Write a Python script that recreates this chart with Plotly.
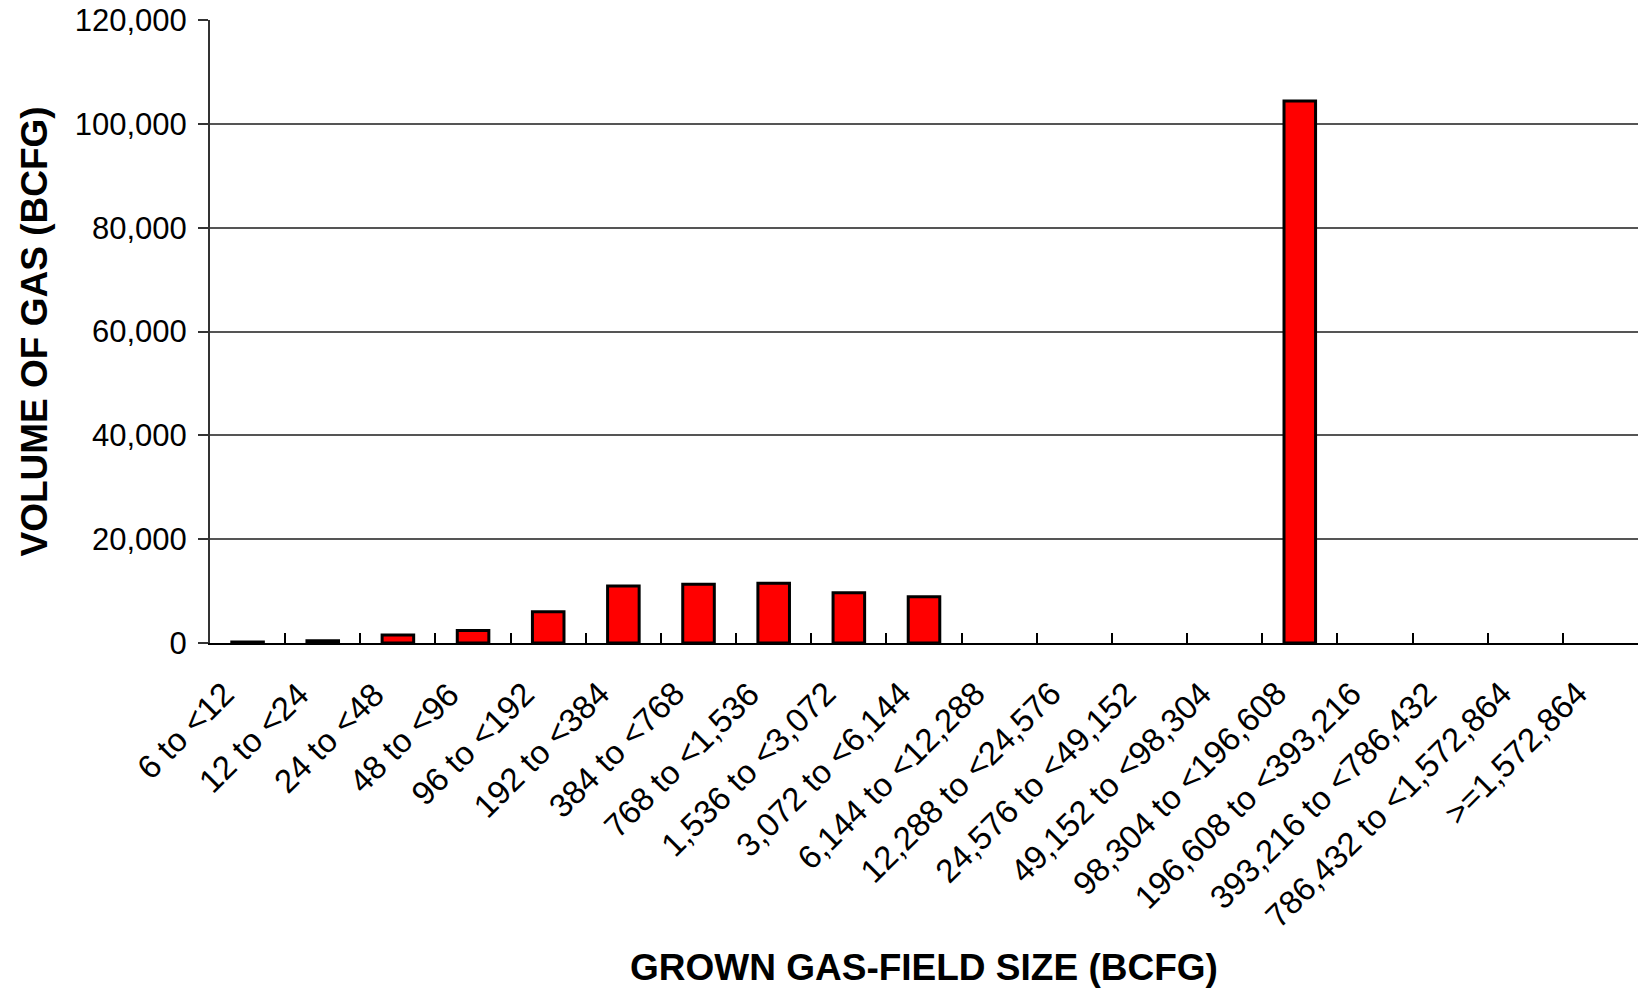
import plotly.graph_objects as go

categories = [
    "6 to <12", "12 to <24", "24 to <48", "48 to <96", "96 to <192",
    "192 to <384", "384 to <768", "768 to <1,536", "1,536 to <3,072",
    "3,072 to <6,144", "6,144 to <12,288", "12,288 to <24,576",
    "24,576 to <49,152", "49,152 to <98,304", "98,304 to <196,608",
    "196,608 to <393,216", "393,216 to <786,432", "786,432 to <1,572,864",
    ">=1,572,864",
]
volume_bcfg = [200, 450, 1550, 2400, 6000, 11000, 11300, 11500, 9700, 8900,
               0, 0, 0, 0, 104400, 0, 0, 0, 0]

y_ticks = [0, 20000, 40000, 60000, 80000, 100000, 120000]
y_tick_labels = ["0", "20,000", "40,000", "60,000", "80,000", "100,000", "120,000"]

x_title = "GROWN GAS-FIELD SIZE (BCFG)"
y_title = "VOLUME OF GAS (BCFG)"

W, H = 1639, 988
L, R, T, B = 210, 1, 20, 345
PW, PH = W - L - R, H - T - B

fig = go.Figure()
fig.add_trace(go.Bar(
    x=categories, y=volume_bcfg,
    marker=dict(color="#FF0000",
                line=dict(color="#000000", width=[3 if v > 0 else 0 for v in volume_bcfg])),
    width=0.42,
    hoverinfo="x+y",
))

title_font = dict(family="Liberation Sans, Arial", size=37, color="#000000")
cat_font = dict(family="Liberation Sans, Arial", size=33, color="#000000")

annotations = [
    dict(text=c, x=c, y=0, xref="x", yref="y", textangle=-45,
         xanchor="right", yanchor="top", xshift=-4, yshift=-29,
         showarrow=False, font=cat_font)
    for c in categories
]
annotations += [
    dict(text="<b>" + x_title + "</b>", xref="paper", yref="paper",
         x=0.5, y=-(967 - (H - B)) / PH,
         xanchor="center", yanchor="middle", showarrow=False, font=title_font),
    dict(text="<b>" + y_title + "</b>", xref="paper", yref="paper",
         x=-(L - 34) / PW, y=0.5, textangle=-90,
         xanchor="center", yanchor="middle", showarrow=False, font=title_font),
]

fig.update_layout(
    width=W, height=H,
    margin=dict(l=L, r=R, t=T, b=B, autoexpand=False),
    paper_bgcolor="white", plot_bgcolor="white",
    showlegend=False,
    bargap=0.58,
    font=dict(family="Liberation Sans, Arial", size=31, color="#000000"),
    xaxis=dict(
        type="category",
        range=[-0.5, len(categories) - 0.5],
        automargin=False,
        tickson="boundaries",
        ticks="inside", ticklen=10, tickwidth=2, tickcolor="#000000",
        showline=True, linecolor="#000000", linewidth=2,
        showgrid=False,
        showticklabels=False,
    ),
    yaxis=dict(
        range=[0, 120000],
        automargin=False,
        tickvals=y_ticks, ticktext=y_tick_labels,
        ticks="outside", ticklen=10, tickwidth=1.5, tickcolor="#333333",
        showline=True, linecolor="#333333", linewidth=2,
        showgrid=True, gridcolor="#555555", gridwidth=1.5,
        zeroline=False,
        tickfont=dict(family="Liberation Sans, Arial", size=31),
        ticklabelstandoff=5,
    ),
    annotations=annotations,
)

fig.write_html("out.html",
               config={"displayModeBar": False},
               post_script="document.body.style.margin='0px';document.body.style.overflow='hidden';")
